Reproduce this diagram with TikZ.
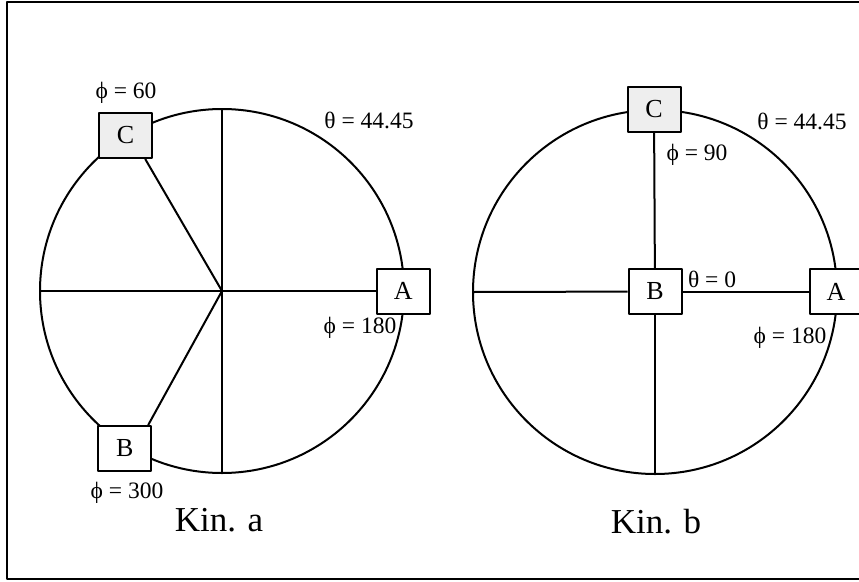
\documentclass[tikz,border=0pt]{standalone}
\usepackage{fontspec}
\setmainfont{Liberation Serif}
\definecolor{ink}{HTML}{000000}
\definecolor{boxgray}{HTML}{EEEEEE}
\newcommand{\boxsize}{\fontsize{26}{30}\selectfont}
\newcommand{\labsize}{\fontsize{23.5}{27}\selectfont}
\newcommand{\capsize}{\fontsize{35}{40}\selectfont}
\tikzset{
  every picture/.style = {line join=round},
  edge/.style          = {line width=2pt, draw=ink},
  frame/.style         = {line width=2.5pt, draw=ink},
  joint/.style         = {draw=ink, line width=2pt, fill=white, minimum width=53, minimum height=45, inner sep=0pt, font=\boxsize},
  lab/.style           = {text=ink, inner sep=0pt, font=\labsize},
  kin/.style           = {text=ink, inner sep=0pt, font=\capsize},
}

\begin{document}
\begin{tikzpicture}[x=1pt, y=-1pt]
  \def\R{182}     % radius of both circles
  \clip (0,0) rectangle (859,581);
  \draw[frame] (7,2) rectangle (866,579);

  % ---------- left: Kin. a --------------------------------------------------
  \coordinate (Oa) at (222,291);
  \coordinate (Na) at (222,{291-\R});
  \coordinate (Sa) at (222,{291+\R});
  \coordinate (Wa) at ({222-\R},291);

  \draw[edge] (Oa) circle (\R);
  \draw[edge] (Na) -- (Sa);

  \node[joint, fill=boxgray] (Ca) at (125.5,135.5) {C};
  \node[joint]               (Ba) at (124.7,448.5) {B};
  \node[joint]               (Aa) at (403.3,291)   {A};

  \draw[edge] (Wa) -- (Aa);
  \draw[edge] (Oa) -- (Ca.-50);
  \draw[edge] (Oa) -- (Ba.45);

  \node[lab] (phiCa) at (126,93)  {ϕ = 60};
  \node[lab] (thA)   at (369,120) {θ = 44.45};
  \node[lab] (phiAa) at (360,328) {ϕ = 180};
  \node[lab] (phiBa) at (127,493) {ϕ = 300};
  \node[kin] (kinA)  at (219,520) {Kin. a};

  % ---------- right: Kin. b -------------------------------------------------
  \coordinate (Ob) at (655,292);
  \coordinate (Sb) at (655,{292+\R});
  \coordinate (Wb) at ({655-\R},292);

  \draw[edge] (Ob) circle (\R);

  \node[joint, fill=boxgray] (Cb) at (654,109)   {C};
  \node[joint]               (Bb) at (655,291.5) {B};
  \node[joint]               (Ab) at (836,291.5) {A};

  \draw[edge] (Cb) -- (Bb);
  \draw[edge] (Bb) -- (Sb);
  \draw[edge] (Wb) -- (Bb);
  \draw[edge] (Bb) -- (Ab);

  \node[lab] (phiCb) at (697,155) {ϕ = 90};
  \node[lab] (thB)   at (802,121) {θ = 44.45};
  \node[lab] (thBb)  at (712,279) {θ = 0};
  \node[lab] (phiAb) at (790,338) {ϕ = 180};
  \node[kin] (kinB)  at (656,522) {Kin. b};
\end{tikzpicture}
\end{document}
